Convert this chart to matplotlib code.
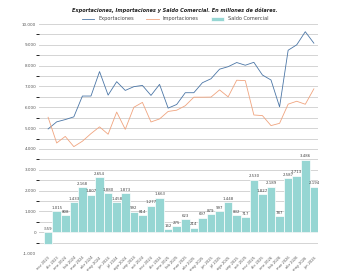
import numpy as np
import matplotlib.pyplot as plt

# monthly data, millions of dollars
meses = ['nov 2023', 'dic 2023', 'ene 2024', 'feb 2024', 'mar 2024', 'abr 2024',
         'may 2024', 'jun 2024', 'jul 2024', 'ago 2024', 'sep 2024', 'oct 2024',
         'nov 2024', 'dic 2024', 'ene 2025', 'feb 2025', 'mar 2025', 'abr 2025',
         'may 2025', 'jun 2025', 'jul 2025', 'ago 2025', 'sep 2025', 'oct 2025',
         'nov 2025', 'dic 2025', 'ene 2026', 'feb 2026', 'mar 2026', 'abr 2026',
         'may 2026', 'jun 2026']
exportaciones = [4960, 5300, 5410, 5540, 6540, 6540, 7715, 6585, 7230, 6810, 6990, 7050,
                 6570, 7100, 5960, 6135, 6700, 6700, 7180, 7370, 7830, 7950, 8150, 8020,
                 8160, 7550, 7310, 6020, 8740, 9000, 9630, 9080]
importaciones = [5520, 4285, 4600, 4110, 4370, 4735, 5060, 4705, 5770, 4940, 6000, 6235,
                 5295, 5440, 5800, 5860, 6075, 6485, 6485, 6490, 6835, 6500, 7300, 7280,
                 5630, 5600, 5120, 5230, 6150, 6290, 6145, 6885]
saldo = [-559, 1015, 808, 1433, 2168, 1807, 2654, 1880, 1458, 1873, 992, 814,
         1277, 1663, 162, 275, 623, 214, 697, 879, 997, 1448, 832, 717,
         2530, 1827, 2189, 787, 2587, 2713, 3486, 2194]


def fmt(v):
    return f'{v:,}'.replace(',', '.')


fig = plt.figure(figsize=(3.5, 2.71), dpi=100)
ax = fig.add_axes([0.111, 0.0664, 0.798, 0.845])

x = np.arange(len(meses))
ax.bar(x, saldo, width=1.0, color='#96d6d3', edgecolor='white', linewidth=0.5,
       label='Saldo Comercial', zorder=2)
ax.plot(x, exportaciones, color='#4b76a6', lw=0.6, label='Exportaciones', zorder=3)
ax.plot(x, importaciones, color='#f0a47f', lw=0.6, label='Importaciones', zorder=3)

for xi, v in zip(x, saldo):
    ax.text(xi, max(v, 0) + 60, fmt(v), ha='center', va='bottom', fontsize=2.8, color='#444444')

ax.set_ylim(-1000, 10000)
ax.set_xlim(-1.08, 31.5)
ax.set_yticks(np.arange(-1000, 10001, 1000))
ax.set_yticklabels([fmt(v) for v in range(-1000, 10001, 1000)], fontsize=3, color='#555555')
ax.set_yticks(np.arange(-500, 10000, 1000), minor=True)
ax.grid(axis='y', which='both', color='#d4d4d4', lw=0.7, zorder=0)
ax.axhline(0, color='#888888', lw=0.6, zorder=1)

ax.set_xticks(x)
ax.set_xticklabels(meses, rotation=45, ha='right', rotation_mode='anchor', fontsize=2.6, color='#555555')
ax.tick_params(length=0, pad=2)
for s in ax.spines.values():
    s.set_visible(False)

fig.text(0.5, 0.963, 'Exportaciones, Importaciones y Saldo Comercial. En millones de dólares.',
         ha='center', va='center', fontsize=3.6, style='italic', weight='bold', color='#222222')
handles, labels = ax.get_legend_handles_labels()
fig.legend(handles, labels, loc='center',
           bbox_to_anchor=(0.5, 0.93), ncol=3, frameon=False, fontsize=3.6,
           handlelength=2.5, handleheight=0.9, columnspacing=2.5, labelcolor='#444444')

fig.savefig('out.png', dpi=100)
